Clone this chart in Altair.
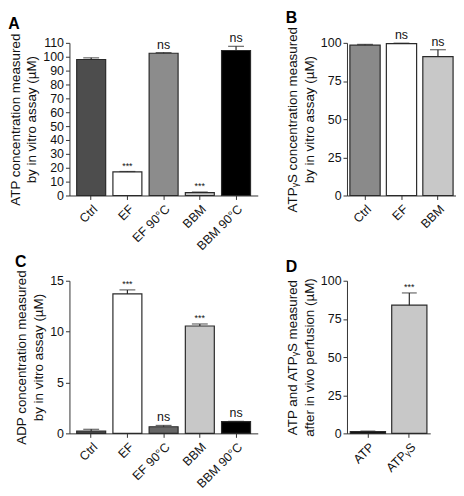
import altair as alt
import pandas as pd

# ---------------- data ----------------
a_cats = ["Ctrl", "EF", "EF 90°C", "BBM", "BBM 90°C"]
a_vals = [98.0, 17.0, 102.5, 2.0, 104.5]
a_errs = [1.2, 0.3, 0.5, 0.5, 3.0]
a_cols = ["#4d4d4d", "#ffffff", "#8c8c8c", "#c8c8c8", "#000000"]
a_ann = ["", "***", "ns", "***", "ns"]

b_cats = ["Ctrl", "EF", "BBM"]
b_vals = [98.5, 99.5, 91.0]
b_errs = [0.5, 0.3, 4.5]
b_cols = ["#8a8a8a", "#ffffff", "#c8c8c8"]
b_ann = ["", "ns", "ns"]

c_cats = ["Ctrl", "EF", "EF 90°C", "BBM", "BBM 90°C"]
c_vals = [0.22, 13.7, 0.65, 10.55, 1.15]
c_errs = [0.18, 0.4, 0.13, 0.2, 0.03]
c_cols = ["#4d4d4d", "#ffffff", "#666666", "#c8c8c8", "#000000"]
c_ann = ["", "***", "ns", "***", "ns"]

d_cats = ["ATP", "ATPᵧS"]
d_vals = [1.2, 84.0]
d_errs = [0.3, 8.0]
d_cols = ["#000000", "#c8c8c8"]
d_ann = ["", "***"]

FONT = "Liberation Sans"


def panel(cats, vals, errs, cols, ann, ymax, step, ytitle, letter, width, height,
          p_in, p_out, cap):
    df = pd.DataFrame({
        "cat": cats,
        "val": vals,
        "top": [v + e for v, e in zip(vals, errs)],
        "col": cols,
        "ann": ann,
        "fs": [9 if s == "***" else 12.5 for s in ann],
    })
    x = alt.X("cat:N", sort=cats,
              scale=alt.Scale(paddingInner=p_in, paddingOuter=p_out),
              axis=alt.Axis(title=None, labelAngle=-45, tickSize=4,
                            labelFontSize=12.5, labelPadding=3))
    yscale = alt.Scale(domain=[0, ymax], nice=False)
    ticks = list(range(0, ymax + 1, step))
    yaxis = alt.Axis(values=ticks, title=ytitle, grid=False, tickSize=4,
                     labelFontSize=12.5, titleFontSize=13.5,
                     labelOverlap=False, labelFlush=False,
                     titleFontWeight="normal", titlePadding=4,
                     titleLineHeight=17)
    base = alt.Chart(df)
    bars = base.mark_bar(stroke="#2a2a2a", strokeWidth=1.2).encode(
        x=x,
        y=alt.Y("val:Q", scale=yscale, axis=yaxis, title=ytitle),
        color=alt.Color("col:N", scale=None),
    )
    rule = base.mark_rule(color="#2a2a2a", strokeWidth=1.2).encode(
        x=x, y=alt.Y("val:Q", scale=yscale, axis=yaxis, title=ytitle),
        y2="top:Q")
    capm = base.mark_tick(color="#2a2a2a", size=cap, thickness=1.2).encode(
        x=x, y=alt.Y("top:Q", scale=yscale, axis=yaxis, title=ytitle))
    txt = base.mark_text(baseline="bottom", dy=-1, fill="#111111").encode(
        x=x, y=alt.Y("top:Q", scale=yscale, axis=yaxis, title=ytitle),
        text="ann:N", size=alt.Size("fs:Q", scale=None))
    return alt.layer(bars, rule, capm, txt).properties(
        width=width, height=height,
        title=alt.TitleParams(letter, anchor="start", frame="bounds",
                              fontSize=16, fontWeight="bold", offset=0))


pa = panel(a_cats, a_vals, a_errs, a_cols, a_ann, 110, 10,
           ["ATP concentration measured", "by in vitro assay (µM)"], "A",
           190, 154, 0.2, 0.2, 16)
pb = panel(b_cats, b_vals, b_errs, b_cols, b_ann, 100, 25,
           ["ATPᵧS concentration measured", "by in vitro assay (µM)"], "B",
           110, 154, 0.17, 0.08, 16)
pc = panel(c_cats, c_vals, c_errs, c_cols, c_ann, 15, 5,
           ["ADP concentration measured", "by in vitro assay (µM)"], "C",
           190, 154, 0.2, 0.2, 16)
pd_ = panel(d_cats, d_vals, d_errs, d_cols, d_ann, 100, 25,
            ["ATP and ATPᵧS measured", "after in vivo perfusion (µM)"], "D",
            84, 154, 0.15, 0.08, 15)

chart = alt.vconcat(
    alt.hconcat(pa, pb, spacing=28),
    alt.hconcat(pc, pd_, spacing=28),
    spacing=0,
).properties(padding={"left": 0, "top": 0, "right": 0, "bottom": 0}).configure(
    font=FONT
).configure_view(stroke=None).configure_axis(
    domainColor="#333333", tickColor="#333333", labelColor="#111111",
    titleColor="#111111", labelFont=FONT, titleFont=FONT
).configure_title(font=FONT, color="#000000")

chart.save("out.html", embed_options={"renderer": "svg", "actions": False})
